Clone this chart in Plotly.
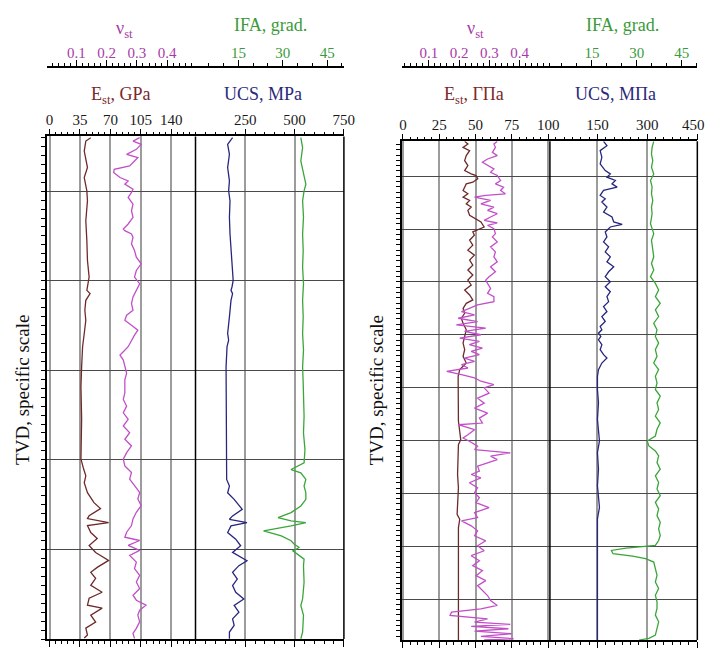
import plotly.graph_objects as go

W, H = 726, 648
OFF = 8                      # default page margin of the html body
FW, FH = W - OFF, H - OFF    # figure size that fits in the window

# ---------------- data (depth in relative units, top = 0) ----------------
# Left panel
depth_L_E = [1.3, 4.7, 14.7, 31.3, 41.3, 54.7, 64.7, 84.7, 104.7, 124.7, 141.3, 154.7, 158, 164.7, 174.7,
             184.7, 198, 211.3, 231.3, 251.3, 284, 324, 334, 341, 348, 358, 368, 374, 381, 384, 388, 391,
             398, 404, 411, 418, 426, 433, 438, 444, 451, 458, 464, 471, 474, 481, 488, 494, 501, 504]
E_L = [47.4, 41.7, 39.9, 43.6, 39.9, 42.9, 43.6, 41.7, 42.9, 43.6, 45.5, 42.9, 46.6, 41.7, 40.6,
       41.7, 39.9, 38.0, 36.9, 36.1, 36.9, 36.1, 39.1, 41.7, 39.9, 43.6, 51.1, 58.6, 45.5, 43.6, 67.9, 43.6,
       47.4, 54.8, 45.5, 53.0, 67.9, 54.8, 47.4, 53.0, 47.4, 60.5, 45.5, 43.6, 60.5, 47.4, 53.0, 41.7, 43.6, 39.9]

depth_L_nu = [1.3, 4.7, 8, 13, 18, 21.3, 24.7, 29.7, 33, 36.3, 41.3, 44.7, 48, 53, 56.3, 61.3, 68, 74.7,
              81.3, 88, 93, 94.7, 98, 101.3, 108, 114.7, 121.3, 128, 134.7, 141.3, 148, 154.7, 161.3, 168,
              174.7, 179.7, 184.7, 189.7, 194.7, 199.7, 204.7, 211.3, 216.3, 219.7, 224.7, 231.3, 238, 244.7,
              251.3, 257.7, 264.3, 271, 277.7, 284.3, 291, 297.7, 304.3, 311, 317.7, 324.3, 331, 337.7,
              344.3, 351, 357.7, 364.3, 371, 377.7, 384.3, 391, 397.7, 402.7, 406, 411, 416, 421, 427.7,
              434.3, 441, 447.7, 454.3, 461, 466, 471, 476, 481, 487.7, 494.3, 499.3, 504.3]
nu_L = [0.309, 0.287, 0.314, 0.298, 0.266, 0.303, 0.292, 0.276, 0.225, 0.223, 0.244, 0.271, 0.260, 0.287,
        0.282, 0.271, 0.287, 0.282, 0.287, 0.271, 0.255, 0.260, 0.282, 0.287, 0.282, 0.292, 0.298, 0.314,
        0.298, 0.292, 0.309, 0.298, 0.287, 0.282, 0.287, 0.266, 0.260, 0.282, 0.303, 0.292, 0.282, 0.271,
        0.255, 0.244, 0.255, 0.260, 0.266, 0.260, 0.260,
        0.260, 0.255, 0.266, 0.255, 0.271, 0.255, 0.276, 0.260, 0.282, 0.266, 0.255, 0.260, 0.282, 0.276,
        0.292, 0.309, 0.303, 0.314, 0.298, 0.287, 0.282, 0.266, 0.260, 0.309, 0.271, 0.309, 0.276, 0.298,
        0.292, 0.309, 0.298, 0.309, 0.287, 0.298, 0.330, 0.309, 0.303, 0.309, 0.298, 0.287, 0.292]

depth_L_UCS = [1.3, 8, 18, 31.3, 44.7, 54.7, 64.7, 81.3, 98, 114.7, 131.3, 144.7, 151.3, 154.7, 158, 164.7,
               181.3, 198, 204.7, 211.3, 231.3, 264.7, 298, 324.7, 344.7, 351.3, 358, 364.7, 371.3, 374.7,
               381.3, 384.7, 388, 391.3, 398, 404.7, 411.3, 418, 426.3, 431.3, 438, 444.7, 451.3, 458,
               464.7, 471.3, 478, 484.7, 491.3, 498, 504.7]
UCS_L = [186, 161, 170, 161, 170, 166, 173, 170, 173, 178, 183, 189, 183, 178, 186, 178,
         170, 161, 166, 158, 153, 153, 153, 153, 156, 170, 161, 194, 218, 235,
         186, 170, 259, 178, 161, 202, 227, 186, 259, 218, 186, 210, 186, 202,
         243, 194, 218, 186, 194, 170, 170]

depth_L_IFA = [1.3, 11.3, 24.7, 38, 48, 54.7, 64.7, 81.3, 98, 114.7, 131.3, 148, 164.7, 181.3, 198, 214.7,
               231.3, 248, 264.7, 281.3, 298, 314.7, 328, 331.3, 334.7, 338, 344.7, 351.3, 358, 364.7,
               371.3, 378, 383, 386.3, 388, 391.3, 396.3, 401.3, 406.3, 409.7, 413, 416.3, 419.7, 424.7,
               431.3, 448, 464.7, 471.3, 481.3, 498, 504.7]
IFA_L = [36.1, 36.7, 36.1, 37.0, 37.8, 37.2, 36.7, 37.0, 36.7, 36.9, 36.7, 37.0, 36.7, 36.9, 36.7, 37.0,
         36.7, 36.9, 37.0, 37.2, 37.0, 37.5, 37.2, 35.0, 32.8, 36.1, 37.8, 37.2, 37.8, 37.8,
         36.1, 32.8, 28.4, 32.8, 37.8, 32.8, 23.5, 29.5, 32.8, 33.9, 35.6, 33.4, 35.0, 37.2,
         37.0, 37.2, 36.7, 36.1, 37.0, 36.7, 36.1]

# Right panel
depth_R_E = [0, 2.7, 6, 9.3, 14.3, 19.3, 24.3, 29.3, 32.7, 34.3, 37.7, 41, 42.7, 46, 49.3, 52.7, 56, 59.3,
             62.7, 66, 69.3, 74.3, 77.7, 81, 86, 91, 94.3, 99.3, 104.3, 109.3, 114.3, 119.3, 124.3, 129.3,
             134.3, 139.3, 144.3, 149.3, 154.3, 159.3, 162.7, 167.7, 172.7, 177.7, 182.7, 189.3, 196, 202.7,
             209.3, 216, 222.7, 226, 229.3, 236, 249.3, 281, 299.7, 304.7, 334.7, 348, 374.7, 379.7, 388,
             414.7, 448, 481.3, 501]
E_R = [42.5, 44.7, 41.4, 45.9, 43.6, 42.5, 44.7, 42.5, 47.0, 50.3, 51.5, 48.1, 43.6, 42.5, 41.4, 44.7, 41.4, 45.9,
       43.6, 47.0, 44.7, 45.9, 50.3, 53.7, 55.9, 48.1, 49.2, 45.9, 48.1, 44.7, 49.2, 45.9, 48.1, 44.7,
       48.1, 44.7, 47.0, 42.5, 45.9, 48.1, 43.6, 41.4, 42.5, 40.2, 41.4, 43.6, 42.5, 41.4,
       42.5, 41.4, 43.6, 41.4, 39.1, 38.0, 38.0, 38.2, 39.8, 38.2, 37.6, 38.2, 37.3, 39.1, 38.2,
       38.2, 38.4, 38.2, 38.2]

depth_R_nu = [0, 2.7, 6, 11, 14.3, 17.7, 21, 24.3, 27.7, 31, 34.3, 39.3, 42.7, 46, 49.3, 52.7, 54.3, 56, 59.3,
              62.7, 66, 69.3, 72.7, 76, 79.3, 82, 84.3, 87.7, 92.7, 96, 101, 106, 111, 116, 121, 126, 131,
              136, 139.3, 142.7, 147.7, 152.7, 156, 161, 164.3, 167.7, 171, 174.3, 177.7, 181, 184.3, 187.7,
              191, 194.3, 197.7, 201, 204.3, 207.7, 211, 214.3, 217.7, 221, 224.3, 227.7, 231, 234.3, 237.7,
              241, 244.3, 247.7,
              253, 258, 263, 268, 273, 278, 283, 284.7, 289.7, 294.7, 298, 301.3, 306.3, 309.7, 313, 316.3,
              319.7, 323, 326.3, 331.3, 334.7, 338, 343, 348, 353, 358, 363, 368, 373, 378, 381.3, 386.3,
              391.3, 396.3, 401.3, 406.3, 411.3, 416.3, 421.3, 426.3, 431.3, 436.3, 441.3, 446.3, 451.3,
              456.3, 461.3, 466.3, 469.7, 473, 476.3, 479.7, 483, 485.3, 487.3, 489.7, 492, 494.7, 497.3,
              499.7, 501]
nu_R = [0.326, 0.315, 0.320, 0.310, 0.326, 0.294, 0.277, 0.294, 0.315, 0.304, 0.326, 0.337, 0.320, 0.347,
        0.337, 0.353, 0.288, 0.251, 0.304, 0.272, 0.315, 0.294, 0.326, 0.304, 0.283, 0.326, 0.294, 0.315,
        0.320, 0.310, 0.326, 0.304, 0.320, 0.315, 0.326, 0.304, 0.320, 0.299, 0.288, 0.294, 0.304, 0.294,
        0.315, 0.315, 0.261, 0.234, 0.208, 0.251, 0.197, 0.261, 0.191, 0.288, 0.218, 0.272, 0.202, 0.267,
        0.234, 0.277, 0.240, 0.267, 0.218, 0.251, 0.208, 0.229, 0.159, 0.208, 0.251, 0.272, 0.315, 0.283,
        0.299, 0.261, 0.283, 0.251, 0.294, 0.267, 0.277, 0.197, 0.251, 0.229, 0.213, 0.234, 0.261, 0.251,
        0.369, 0.304, 0.326, 0.294, 0.261, 0.267, 0.240, 0.272, 0.234, 0.261, 0.251, 0.267, 0.256, 0.299,
        0.251, 0.261, 0.208, 0.240, 0.261, 0.251, 0.288, 0.261, 0.283, 0.240, 0.267, 0.245, 0.277, 0.256,
        0.288, 0.261, 0.277, 0.294, 0.304, 0.326, 0.272, 0.175, 0.170, 0.294, 0.251, 0.369, 0.240, 0.363,
        0.251, 0.374, 0.272, 0.380, 0.283]

depth_R_UCS = [0, 4.3, 9.3, 16, 22.7, 29.3, 32.7, 36, 39.3, 42.7, 46, 49.3, 54.3, 57.7, 61, 66, 71, 76, 81,
               83.3, 86, 91, 96, 101, 106, 111, 116, 121, 126, 131, 136, 141, 146, 151, 156, 161, 166, 171,
               176, 181, 186, 189.3, 192.7, 196, 199.3, 204.3, 209.3, 214.3, 217.7, 222.7, 229.3, 236,
               249.3, 262.7, 279.3, 296, 301, 312.7, 329.3, 346, 362.7, 367.7, 379.3, 396, 429.3, 462.7, 501]
UCS_R = [168.4, 178.6, 158.2, 163.3, 158.2, 173.5, 188.8, 178.6, 204.1, 193.9, 209.2, 168.4, 158.2, 173.5,
         163.3, 178.6, 168.4, 193.9, 199.0, 224.5, 188.8, 173.5, 178.6, 168.4, 183.7, 173.5, 188.8, 178.6,
         199.0, 183.7, 173.5, 188.8, 173.5, 188.8, 178.6, 183.7, 168.4, 178.6, 163.3, 173.5, 158.2, 163.3,
         153.1, 160.2, 153.1, 163.3, 158.2, 168.4, 178.6, 163.3, 153.1, 150.0, 150.0, 153.1, 150.0, 153.1,
         156.1, 150.0, 153.1, 150.0, 153.1, 156.1, 150.0, 150.0, 150.0, 150.0, 150.0]

depth_R_IFA = [0, 6, 12.7, 19.3, 26, 32.7, 39.3, 46, 52.7, 59.3, 66, 72.7, 82.7, 92.7, 99.3, 106, 116, 122.7,
               129.3, 136, 142.7, 149.3, 156, 162.7, 169.3, 176, 182.7, 189.3, 196, 202.7, 209.3, 216,
               222.7, 229.3, 236, 242.7, 249.3, 256, 262.7, 269.3, 276, 282.7, 289.3, 296, 301, 306, 311,
               316, 322.7, 329.3, 336, 342.7, 349.3, 356, 362.7, 369.3, 376, 382.7, 389.3, 396, 401, 406,
               408.7, 411, 414.3, 416.7, 419.3, 422.7, 429.3, 436, 442.7, 449.3, 456, 462.7, 469.3, 476,
               482.7, 489.3, 496, 499.3, 501]
IFA_R = [35.65, 35.1, 34.89, 35.32, 34.89, 35.65, 34.56, 35.1, 34.89, 35.32, 34.89, 35.1, 34.56, 35.65, 34.89,
         35.1, 35.65, 34.89, 35.65, 34.56, 36.19, 37.28, 36.19, 37.82, 36.19, 37.28, 35.65, 36.74, 36.19,
         37.28, 36.19, 36.74, 35.65, 37.28, 36.19, 36.74, 36.19, 37.82, 36.74, 37.28, 36.19, 37.82, 36.74,
         36.19, 33.47, 34.02, 36.19, 37.28, 36.74, 37.82, 36.19, 37.28, 36.74, 37.82, 36.19, 37.28, 36.74,
         37.82, 37.28, 37.82, 37.28, 36.19, 26.41, 21.52, 22.06, 28.58, 32.93, 35.65, 36.19, 36.74, 36.19,
         37.28, 36.19, 36.74, 36.74, 36.19, 37.28, 36.74, 36.19, 34.02, 30.76]

# tick values / labels
E_L_ticks = [0, 35, 70, 105, 140]
UCS_L_ticks = [250, 500, 750]
UCS_L_ticktext = ["250", "500", "750"]
E_R_ticks = [0, 25, 50, 75, 100]
UCS_R_ticks = [150, 300, 450]
UCS_R_ticktext = ["150", "300", "450\u00a0\u00a0"]
nu_ticks = [0.1, 0.2, 0.3, 0.4]
nu_ticktext = ["0.1", "0.2", "0.3", "0.4"]
IFA_ticks = [15, 30, 45]

# ---------------- styling ----------------
SERIF = "Liberation Serif, Times New Roman, serif"
C_E = "#6e2a2a"
C_NU = "#c24fc8"
C_UCS = "#27277f"
C_IFA = "#3aa63a"
T_E = "#7a2a2a"
T_NU = "#a83aa8"
T_UCS = "#2a2a7c"
T_IFA = "#3a9a3a"


def px(x):
    return (x - OFF) / FW


def py(y):
    return 1 - (y - OFF) / FH


fig = go.Figure()
LW = 1.3
fig.add_trace(go.Scatter(x=E_L, y=depth_L_E, mode="lines", line=dict(color=C_E, width=LW), xaxis="x", yaxis="y"))
fig.add_trace(go.Scatter(x=nu_L, y=depth_L_nu, mode="lines", line=dict(color=C_NU, width=LW), xaxis="x3", yaxis="y"))
fig.add_trace(go.Scatter(x=UCS_L, y=depth_L_UCS, mode="lines", line=dict(color=C_UCS, width=LW), xaxis="x2", yaxis="y"))
fig.add_trace(go.Scatter(x=IFA_L, y=depth_L_IFA, mode="lines", line=dict(color=C_IFA, width=LW), xaxis="x4", yaxis="y"))

fig.add_trace(go.Scatter(x=E_R, y=depth_R_E, mode="lines", line=dict(color=C_E, width=LW), xaxis="x5", yaxis="y2"))
fig.add_trace(go.Scatter(x=nu_R, y=depth_R_nu, mode="lines", line=dict(color=C_NU, width=LW), xaxis="x7", yaxis="y2"))
fig.add_trace(go.Scatter(x=UCS_R, y=depth_R_UCS, mode="lines", line=dict(color=C_UCS, width=LW), xaxis="x6", yaxis="y2"))
fig.add_trace(go.Scatter(x=IFA_R, y=depth_R_IFA, mode="lines", line=dict(color=C_IFA, width=LW), xaxis="x8", yaxis="y2"))

tickfont = dict(family=SERIF, size=15, color="#1a1a1a")


def bottom_axis(domain, rng, tickvals, ticktext, minor_dtick, anchor, tick0=0):
    return dict(domain=domain, range=rng, side="top", anchor=anchor, tickmode="array", tickvals=tickvals,
                ticktext=ticktext,
                ticks="outside", ticklen=6, tickwidth=1, tickcolor="black", showline=True, linecolor="black",
                linewidth=1.5, mirror="ticks", showgrid=True, gridcolor="#9c9c9c", gridwidth=1.5,
                zeroline=False, tickfont=tickfont, ticklabelstandoff=-2,
                minor=dict(ticks="outside", ticklen=3, dtick=minor_dtick, tick0=tick0, tickcolor="black",
                           showgrid=False))


def top_axis(rng, tickvals, ticktext, minor_dtick, overlaying, color):
    return dict(range=rng, side="top", overlaying=overlaying, anchor="free", position=py(67),
                tickmode="array", tickvals=tickvals, ticktext=ticktext, ticks="outside", ticklen=6,
                tickwidth=1, tickcolor="black", showline=True, linecolor="black", linewidth=1.5,
                showgrid=False, zeroline=False, tickfont=dict(family=SERIF, size=15, color=color),
                ticklabelstandoff=-4,
                minor=dict(ticks="outside", ticklen=3, dtick=minor_dtick, tick0=0, tickcolor="black",
                           showgrid=False))


def depth_axis(domain, rng, tick0, dtick, anchor):
    return dict(domain=domain, range=rng, anchor=anchor, tick0=tick0, dtick=dtick, showticklabels=False,
                ticks="outside", ticklen=4, tickcolor="black", showline=True, linecolor="black",
                linewidth=1.5, showgrid=True, gridcolor="#4a4a4a", gridwidth=1, zeroline=False,
                minor=dict(ticks="outside", ticklen=4, dtick=dtick / 10, tick0=tick0, tickcolor="black",
                           showgrid=False))


fig.update_layout(
    width=FW, height=FH, margin=dict(l=0, r=0, t=0, b=0), paper_bgcolor="white", plot_bgcolor="white",
    showlegend=False,
    xaxis=bottom_axis([px(46), px(198)], [-2.8, 167.8], E_L_ticks, None, 7, "y"),
    xaxis2=bottom_axis([px(198), px(350)], [-2, 750.5], UCS_L_ticks, UCS_L_ticktext, 50, "y"),
    xaxis3=top_axis([0.0032, 0.4935], nu_ticks, nu_ticktext, 0.02, "x", T_NU),
    xaxis4=top_axis([0.5, 50.66], IFA_ticks, [str(v) for v in IFA_ticks], 5, "x2", T_IFA),
    yaxis=depth_axis([py(642), py(137)], [505, 0], 55, 90, "x"),
    xaxis5=bottom_axis([px(409), px(561)], [-1, 101.2], E_R_ticks, None, 5, "y2"),
    xaxis6=bottom_axis([px(561), px(712)], [6.8, 450.9], UCS_R_ticks, UCS_R_ticktext, 25, "y2"),
    xaxis7=top_axis([0.0097, 0.5], nu_ticks, nu_ticktext, 0.02, "x5", T_NU),
    xaxis8=top_axis([0.98, 50.2], IFA_ticks, [str(v) for v in IFA_ticks], 5, "x6", T_IFA),
    yaxis2=depth_axis([py(643), py(142)], [501, 0], 35, 53.1, "x5"),
)

# track borders
for xp, y0, y1 in [(198, 137, 642), (350, 137, 642), (561, 142, 643), (712, 142, 643)]:
    fig.add_shape(type="line", xref="paper", yref="paper", x0=px(xp), x1=px(xp), y0=py(y1), y1=py(y0),
                  line=dict(color="black", width=1.5))

tfont = lambda c: dict(family=SERIF, size=18, color=c)
ann = [
    ("ν<sub>st</sub>", 125, 30, T_NU),
    ("IFA, grad.", 275, 25, T_IFA),
    ("E<sub>st</sub>, GPa", 121, 96, T_E),
    ("UCS, MPa", 267, 94, T_UCS),
    ("ν<sub>st</sub>", 485, 30, T_NU),
    ("IFA, grad.", 635, 25, T_IFA),
    ("E<sub>st</sub>, ГПа", 483, 96, T_E),
    ("UCS, МПа", 628, 94, T_UCS),
]
for text, x, y, c in ann:
    fig.add_annotation(text=text, x=px(x), y=py(y), xref="paper", yref="paper", showarrow=False,
                       xanchor="center", yanchor="middle", font=tfont(c))

for x in (20, 383):
    fig.add_annotation(text="TVD, specific scale", x=px(x), y=py(392), xref="paper", yref="paper",
                       showarrow=False, textangle=-90, xanchor="center", yanchor="middle",
                       font=dict(family=SERIF, size=19, color="#111"))

fig.write_html("out.html")
